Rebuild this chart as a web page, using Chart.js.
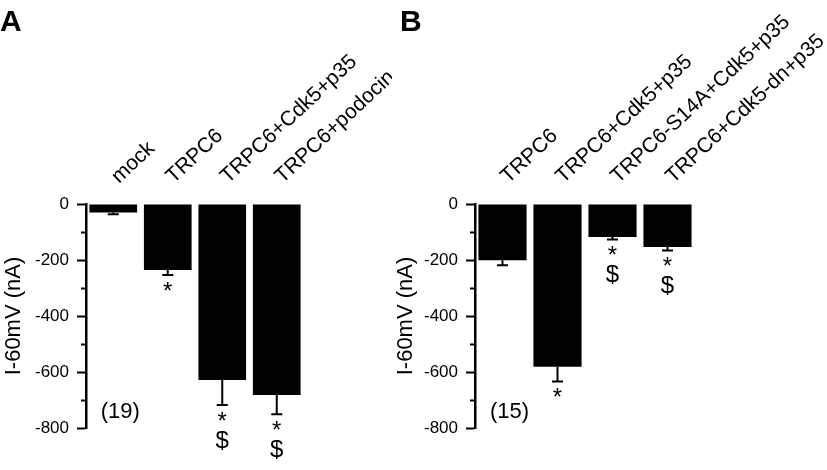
<!DOCTYPE html>
<html>
<head>
<meta charset="utf-8">
<script src="https://cdn.jsdelivr.net/npm/chart.js@4.4.1/dist/chart.umd.min.js"></script>
<style>
  body { margin: 0; background: #fff; width: 827px; height: 470px; position: relative; overflow: hidden; }
  canvas { position: absolute; top: 0; }
  #chartA { left: 0; }
  #chartB { left: 392px; }
</style>
</head>
<body>
<canvas id="chartA" width="392" height="470"></canvas>
<canvas id="chartB" width="435" height="470"></canvas>
<script>
// panel A
const groupsA = ['mock', 'TRPC6', 'TRPC6+Cdk5+p35', 'TRPC6+podocin'];
const currentA = [-30, -236, -629, -682];
const semA = [7, 18, 89, 69];
const marksA = [[], ['*'], ['*', '$'], ['*', '$']];
const countA = '(19)';

// panel B
const groupsB = ['TRPC6', 'TRPC6+Cdk5+p35', 'TRPC6-S14A+Cdk5+p35', 'TRPC6+Cdk5-dn+p35'];
const currentB = [-201, -581, -118, -154];
const semB = [18, 53, 9, 12];
const marksB = [[], ['*'], ['*', '$'], ['*', '$']];
const countB = '(15)';

const yMin = -800;
const yMax = 0;
const yStep = 100;

Chart.defaults.font.family = "'Liberation Sans', Arial, sans-serif";
Chart.defaults.color = '#000';

// error bars, significance marks, n and panel letter
const extras = {
  id: 'extras',
  afterDatasetsDraw(chart, args, opts) {
    const { ctx } = chart;
    const x = chart.scales.x, y = chart.scales.y;
    ctx.save();
    ctx.strokeStyle = '#000';
    ctx.fillStyle = '#000';
    ctx.lineWidth = 2;
    opts.values.forEach((v, i) => {
      const cx = x.getPixelForValue(i);
      const y0 = y.getPixelForValue(v);
      const y1 = y.getPixelForValue(v - opts.errors[i]);
      ctx.beginPath();
      ctx.moveTo(cx, y0);
      ctx.lineTo(cx, y1);
      ctx.moveTo(cx - 5.5, y1);
      ctx.lineTo(cx + 5.5, y1);
      ctx.stroke();
      ctx.font = "24px 'Liberation Sans', Arial, sans-serif";
      ctx.textAlign = 'center';
      ctx.textBaseline = 'top';
      opts.marks[i].forEach((m, k) => {
        ctx.fillText(m, cx, y1 + 5 + k * 19);
      });
    });
    ctx.font = "22px 'Liberation Sans', Arial, sans-serif";
    ctx.textAlign = 'center';
    ctx.textBaseline = 'middle';
    ctx.fillText(opts.count, x.getPixelForValue(0) + 7, y.bottom - 16);
    ctx.font = "bold 30px 'Liberation Sans', Arial, sans-serif";
    ctx.textAlign = 'left';
    ctx.textBaseline = 'alphabetic';
    ctx.fillText(opts.letter, opts.letterX, 31);
    ctx.restore();
  }
};

function makePanel(id, groups, values, errors, marks, count, letter, letterX, axisX, plotRight) {
  const canvas = document.getElementById(id);
  return new Chart(canvas, {
    type: 'bar',
    data: {
      labels: groups,
      datasets: [{
        data: values,
        backgroundColor: '#000',
        borderWidth: 0,
        barPercentage: 0.875,
        categoryPercentage: 1
      }]
    },
    options: {
      responsive: false,
      animation: false,
      layout: { padding: { left: 0, top: 0, right: canvas.width - plotRight, bottom: 42 } },
      plugins: {
        legend: { display: false },
        tooltip: { enabled: false },
        extras: { values, errors, marks, count, letter, letterX }
      },
      scales: {
        x: {
          position: 'top',
          afterFit(s) { s.height = 204; s.paddingLeft = 0; s.paddingRight = 0; },
          grid: { display: false, drawTicks: false },
          border: { display: false },
          ticks: { autoSkip: false, minRotation: 43, maxRotation: 43, padding: 15, labelOffset: 19, font: { size: 21 }, color: '#000' }
        },
        y: {
          min: yMin,
          max: yMax,
          afterFit(s) { s.width = axisX; s.paddingTop = 0; s.paddingBottom = 0; },
          ticks: {
            stepSize: yStep,
            padding: 8,
            font: { size: 17 },
            color: '#000',
            callback: v => (v % 200 === 0 ? String(v) : '')
          },
          grid: {
            drawOnChartArea: false,
            tickLength: 9,
            tickWidth: 2,
            tickColor: '#000',
            tickBorderDash: c => (c.tick && c.tick.value % 200 !== 0 ? [0, 4, 20] : [])
          },
          border: { color: '#000', width: 2.5 },
          title: { display: true, text: 'I-60mV (nA)', font: { size: 22 }, color: '#000', padding: { top: 1, bottom: 0 } }
        }
      }
    },
    plugins: [extras]
  });
}

makePanel('chartA', groupsA, currentA, semA, marksA, countA, 'A', 0, 86, 304);
makePanel('chartB', groupsB, currentB, semB, marksB, countB, 'B', 8, 83, 303);
</script>
</body>
</html>
